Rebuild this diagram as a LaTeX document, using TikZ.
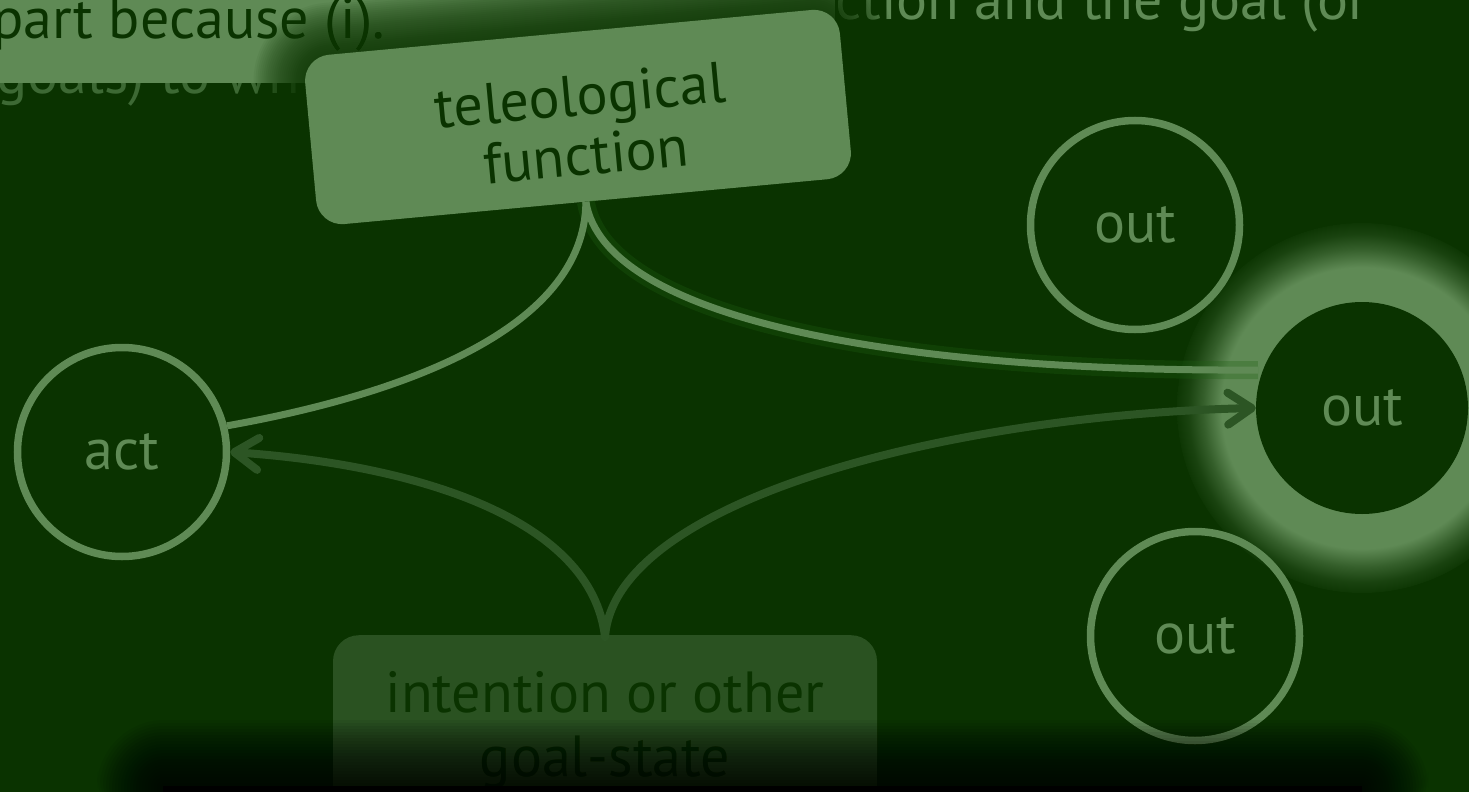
\documentclass[tikz,border=0pt]{standalone}
\usepackage{fontspec}
\setmainfont{PT Sans}
\usetikzlibrary{arrows.meta}
\definecolor{bg}{HTML}{0A3300}
\definecolor{lg}{HTML}{5F8A55}
\definecolor{dimg}{HTML}{2C5524}
\definecolor{fainttxt}{HTML}{3D6934}
\definecolor{boxdim}{HTML}{2A5221}
\definecolor{txtdark}{HTML}{0A3300}
\definecolor{glowg}{HTML}{1E6012}
\colorlet{glowmid}{lg!50!bg}
\colorlet{glowlow}{lg!18!bg}
\pgfdeclareradialshading{outglow}{\pgfpoint{0bp}{0bp}}{color(0bp)=(lg); color(19bp)=(lg); color(21.5bp)=(glowmid); color(23.5bp)=(glowlow); color(25.5bp)=(bg); color(50bp)=(bg)}
\begin{document}
\begin{tikzpicture}[x=1pt,y=-1pt,
  font=\fontsize{58}{60}\selectfont,
  ring/.style={circle, draw=lg, line width=7.5pt, minimum size=209pt, inner sep=0pt, text=lg},
  link/.style={draw=lg, line width=7pt},
  glowline/.style={draw=glowg, line width=18pt, opacity=0.3},
  dimlink/.style={draw=dimg, line width=8pt, line cap=round, -{Straight Barb[length=24pt,width=32pt,round]}},
  plaintext/.style={anchor=base west, inner sep=0pt},
]
\useasboundingbox (0,0) rectangle (1469,792);
\fill[bg] (0,0) rectangle (1469,792);
\begin{scope}
\clip (0,0) rectangle (1469,792);
% glow around the highlighted output
\shade[shading=outglow] (1362,408) circle[radius=185];
% background paragraph fragments
\node[plaintext, text=fainttxt] (goalstxt) at (-4,93) {goals) to which};
\node[plaintext, text=lg] (toprighttxt) at (835,20) {ction and the goal (or};
\node[fill=lg, anchor=north west, inner sep=0pt, minimum width=835pt, minimum height=83pt] (hilite) at (0,0) {};
\node[plaintext, text=txtdark] (parttxt) at (-8,38) {part because (i).};
% soft shadow of the teleological box
\begin{scope}[shift={(578,117)}, rotate=5.3]
\foreach \k in {1,...,26}{
  \pgfmathsetmacro\rr{26+2*\k}
  \pgfmathsetmacro\dd{2*\k}
  \fill[bg, opacity=0.055, rounded corners=\rr pt] (-268-\dd,-85-\dd) rectangle (268+\dd,85+\dd);
}
\end{scope}
% teleological function box
\node[fill=lg, rounded corners=26pt, minimum width=537pt, minimum height=170pt, rotate=5.3, inner sep=0pt] (tele) at (578,117) {};
\node[rotate=5.3, inner sep=0pt, text=txtdark, align=center] (telelabel) at (583,125) {teleological\\function};
% nodes
\node[ring] (act) at (122,452) {act};
\node[ring] (outtop) at (1135,225) {out};
\node[circle, fill=bg, minimum size=212pt, inner sep=0pt, text=lg] (outmid) at (1362,408) {out};
\node[ring] (outbot) at (1195,636) {out};
\node[fill=boxdim, rounded corners=26pt, anchor=north, minimum width=544pt, minimum height=230pt, inner sep=0pt] (intent) at (605,635) {};
\node[text=txtdark, align=center, inner sep=0pt, anchor=base, font=\fontsize{58}{64}\selectfont] (intenttxt) at (605,776) {intention or other\\goal-state};
\coordinate (intenttop) at (605,637);
\coordinate (teleend) at (1258,370);
% dim arrows from the intention
\draw[dimlink] (intenttop) .. controls (592,520) and (420,465) .. (act.east);
\draw[dimlink] (intenttop) .. controls (615,500) and (950,415) .. (outmid.west);
% teleological links
\path[glowline] (tele.south) .. controls (605,320) and (900,372) .. (teleend);
\draw[link] (tele.south) .. controls (585,330) and (400,395) .. (act.14);
\draw[link] (tele.south) .. controls (605,320) and (900,372) .. (teleend);
% bottom bar with soft shadow
\foreach \k in {0,...,22}{
  \pgfmathsetmacro\dd{3*\k}
  \pgfmathsetmacro\rr{2+3*\k}
  \fill[black, opacity=0.06, rounded corners=\rr pt] (163-\dd,786-\dd) rectangle (1362+\dd,840);
}
\node[fill=black, anchor=north west, inner sep=0pt, minimum width=1199pt, minimum height=10pt] (bar) at (163,786) {};
\end{scope}
\end{tikzpicture}
\end{document}
